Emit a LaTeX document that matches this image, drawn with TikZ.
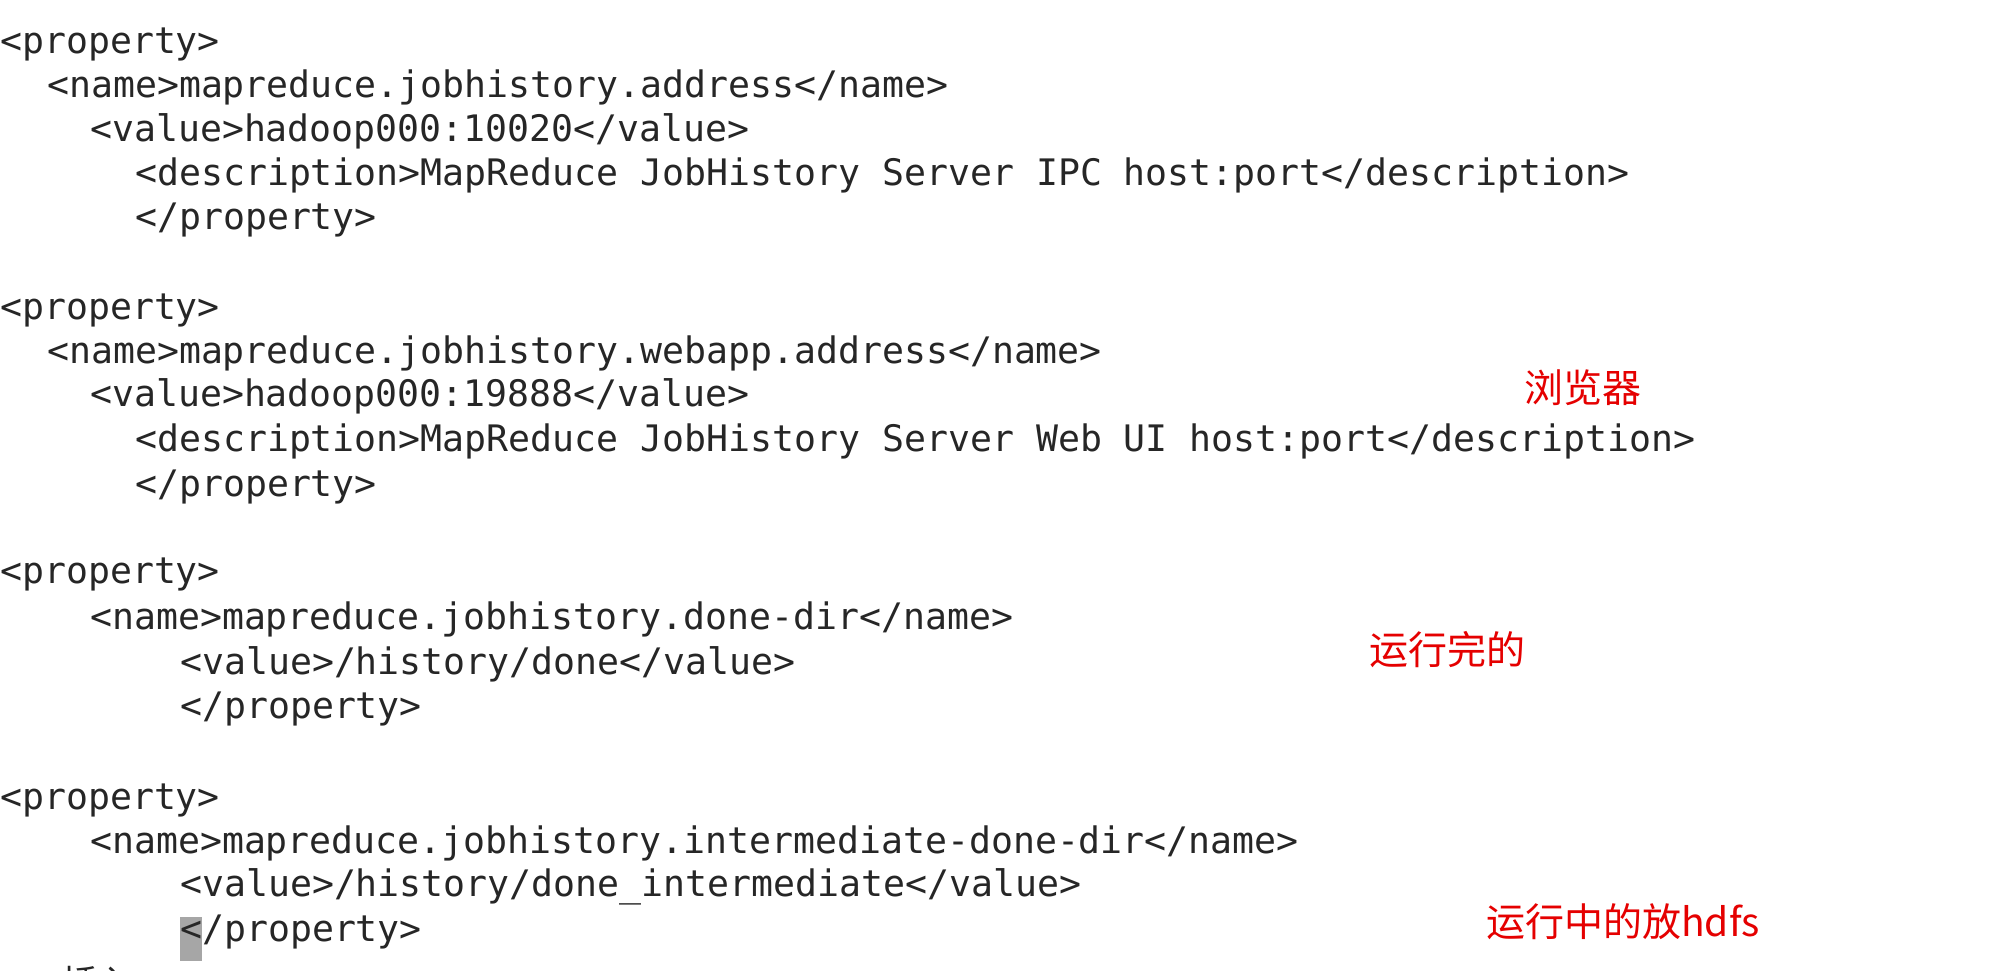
\documentclass[tikz,border=0pt]{standalone}
\usepackage{fontspec}
\setmonofont{DejaVu Sans Mono}
\newfontfamily\cjk{Noto Sans CJK SC}
\begin{document}
\begin{tikzpicture}[x=1pt,y=-1pt,
  code/.style={anchor=west,inner sep=0pt,font=\ttfamily\fontsize{36.5}{40}\selectfont,text=black!85,text height=0.75em,text depth=0.25em},
  note/.style={anchor=west,inner sep=0pt,font=\cjk\fontsize{39}{44}\selectfont,text=red!90!black}]
\useasboundingbox (0,0) rectangle (2012,970);
\clip (0,0) rectangle (2012,970);
\fill[white] (0,0) rectangle (2012,970);
\begin{scope}[yshift=-9pt]
\fill[gray!70] (180,908) rectangle (202,952);
\node[code] (l1) at (0,42) {<property>};
\node[code] (l2) at (47,86) {<name>mapreduce.jobhistory.address</name>};
\node[code] (l3) at (90,130) {<value>hadoop000:10020</value>};
\node[code] (l4) at (135,174) {<description>MapReduce JobHistory Server IPC host:port</description>};
\node[code] (l5) at (135,218) {</property>};
\node[code] (l6) at (0,308) {<property>};
\node[code] (l7) at (47,352) {<name>mapreduce.jobhistory.webapp.address</name>};
\node[code] (l8) at (90,395) {<value>hadoop000:19888</value>};
\node[code] (l9) at (135,440) {<description>MapReduce JobHistory Server Web UI host:port</description>};
\node[code] (l10) at (135,485) {</property>};
\node[code] (l11) at (0,572) {<property>};
\node[code] (l12) at (90,618) {<name>mapreduce.jobhistory.done-dir</name>};
\node[code] (l13) at (180,663) {<value>/history/done</value>};
\node[code] (l14) at (180,707) {</property>};
\node[code] (l15) at (0,798) {<property>};
\node[code] (l16) at (90,842) {<name>mapreduce.jobhistory.intermediate-done-dir</name>};
\node[code] (l17) at (180,885) {<value>/history/done\_intermediate</value>};
\node[code] (l18) at (180,930) {</property>};
\end{scope}
\node[anchor=west,inner sep=0pt,font=\cjk\fontsize{36}{40}\selectfont,text=black!85] (ins) at (62,983) {插入};
\node[note] (n1) at (1524,388) {浏览器};
\node[note] (n2) at (1369,650) {运行完的};
\node[note] (n3) at (1486,922) {运行中的放hdfs};
\end{tikzpicture}
\end{document}
